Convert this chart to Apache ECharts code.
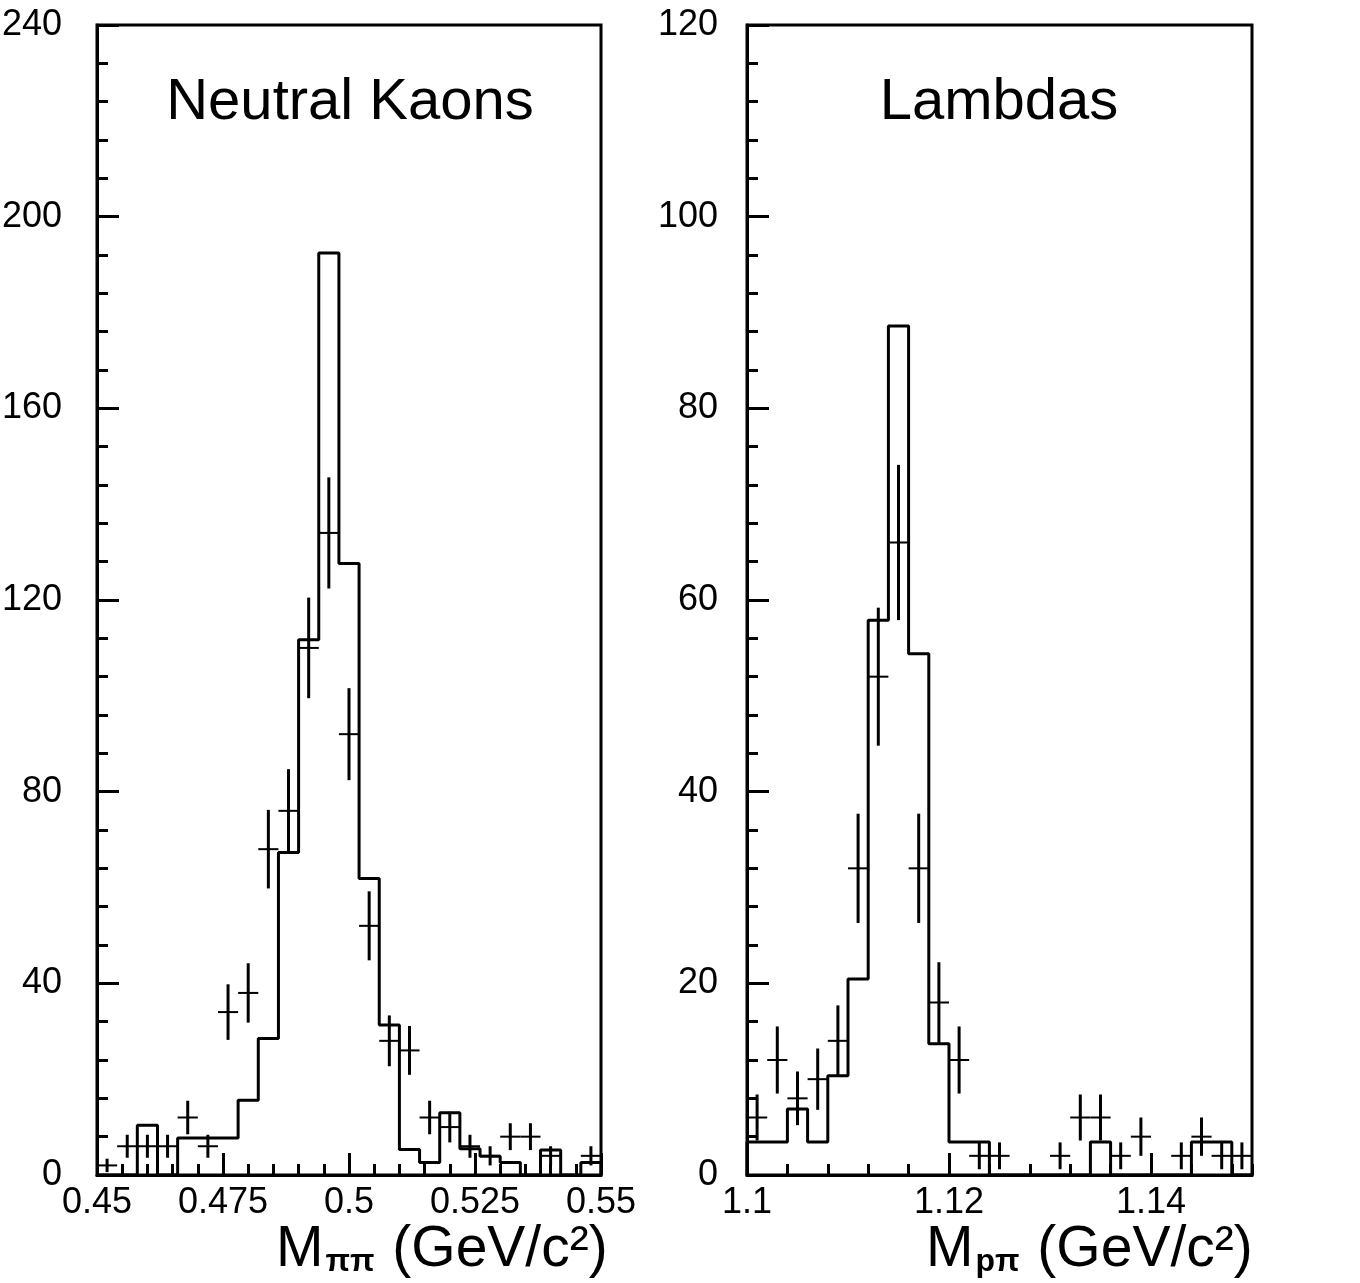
<!DOCTYPE html>
<html>
<head>
<meta charset="utf-8">
<script src="https://cdn.jsdelivr.net/npm/echarts@6/dist/echarts.min.js"></script>
<style>
  html, body { margin: 0; padding: 0; background: #ffffff; }
  #chart { width: 1360px; height: 1283px; }
</style>
</head>
<body>
<div id="chart"></div>
<script>
// ---------- Data ----------
// Neutral Kaons: M_pipi bins (GeV/c^2)
const kaonEdges = [0.450, 0.454, 0.458, 0.462, 0.466, 0.470, 0.474, 0.478, 0.482, 0.486,
                   0.490, 0.494, 0.498, 0.502, 0.506, 0.510, 0.514, 0.518, 0.522, 0.526,
                   0.530, 0.534, 0.538, 0.542, 0.546, 0.550];
// histogram (solid step line)
const kaonHist = [0, 0, 10.4, 0, 7.7, 7.7, 7.7, 15.6, 28.5, 67.3, 111.7, 192.4, 127.6,
                  61.9, 31.3, 5.3, 2.6, 13.0, 5.5, 3.9, 2.6, 0, 5.2, 0, 2.6];
// data points (crosses) and their error half-lengths
const kaonData = [2, 6, 6, 6, 12, 6, 34, 38, 68, 76, 110, 134, 92,
                  52, 28, 26, 12, 10, 6, 4, 8, 8, 4, 0, 4];
const kaonErr  = [1.4, 2.4, 2.4, 2.4, 3.5, 2.4, 5.8, 6.2, 8.2, 8.7, 10.5, 11.6, 9.6,
                  7.2, 5.3, 5.1, 3.5, 3.2, 2.4, 2.0, 2.8, 2.8, 2.0, 0, 2.0];

// Lambdas: M_ppi bins (GeV/c^2)
const lambdaEdges = [1.100, 1.102, 1.104, 1.106, 1.108, 1.110, 1.112, 1.114, 1.116, 1.118,
                     1.120, 1.122, 1.124, 1.126, 1.128, 1.130, 1.132, 1.134, 1.136, 1.138,
                     1.140, 1.142, 1.144, 1.146, 1.148, 1.150];
const lambdaHist = [3.45, 3.45, 6.9, 3.45, 10.35, 20.45, 57.9, 88.6, 54.4, 13.7, 3.45, 3.45, 0,
                    0, 0, 0, 0, 3.45, 0, 0, 0, 0, 3.45, 3.45, 0];
const lambdaData = [6, 12, 8, 10, 14, 32, 52, 66, 32, 18, 12, 2, 2,
                    0, 0, 2, 6, 6, 2, 4, 0, 2, 4, 2, 2];
const lambdaErr  = [2.4, 3.5, 2.8, 3.2, 3.7, 5.7, 7.2, 8.1, 5.7, 4.2, 3.5, 1.4, 1.4,
                    0, 0, 1.4, 2.4, 2.4, 1.4, 2.0, 0, 1.4, 2.0, 1.4, 1.4];

// Axis ticks
const kaonXTicks = { min: 0.45, max: 0.55, interval: 0.025 };
const kaonYTicks = { min: 0, max: 240, interval: 40 };
const lambdaXTicks = { min: 1.1, max: 1.15, interval: 0.02, minorInterval: 0.004 };
const lambdaYTicks = { min: 0, max: 120, interval: 20 };

const panelTitles = ['Neutral Kaons', 'Lambdas'];

// ---------- Helpers ----------
function stepData(edges, hist) {
  const pts = [[edges[0], 0]];
  for (let i = 0; i < hist.length; i++) pts.push([edges[i], hist[i]]);
  pts.push([edges[edges.length - 1], hist[hist.length - 1]]);
  pts.push([edges[edges.length - 1], 0]);
  return pts;
}
function crossData(edges, vals, errs) {
  const out = [];
  for (let i = 0; i < vals.length; i++) {
    if (vals[i] <= 0) continue;
    out.push([(edges[i] + edges[i + 1]) / 2, vals[i], errs[i], (edges[i + 1] - edges[i]) / 2]);
  }
  return out;
}
function renderCross(params, api) {
  const x = api.value(0), y = api.value(1), e = api.value(2), hw = api.value(3);
  const c = api.coord([x, y]);
  const l = api.coord([x - hw, y]);
  const r = api.coord([x + hw, y]);
  const t = api.coord([x, y + e]);
  const b = api.coord([x, y - e]);
  return {
    type: 'group',
    children: [
      { type: 'line', shape: { x1: l[0], y1: c[1], x2: r[0], y2: c[1] },
        style: { stroke: '#000', lineWidth: 2 } },
      { type: 'line', shape: { x1: c[0], y1: t[1], x2: c[0], y2: b[1] },
        style: { stroke: '#000', lineWidth: 3 } }
    ]
  };
}
function fmt(v) {
  return String(parseFloat(v.toFixed(4)));
}

const baseFont = "'Liberation Sans', Arial, sans-serif";
const tickLabel = { color: '#000', fontSize: 36, fontFamily: baseFont };

const chart = echarts.init(document.getElementById('chart'), null, { renderer: 'canvas' });

const gridCommon = { show: true, borderColor: '#000', borderWidth: 3, backgroundColor: 'transparent',
                     containLabel: false, outerBoundsMode: 'none' };

const option = {
  backgroundColor: '#ffffff',
  animation: false,
  grid: [
    Object.assign({ left: 97, top: 25, width: 504, height: 1150 }, gridCommon),
    Object.assign({ left: 747, top: 25, width: 505, height: 1150 }, gridCommon)
  ],
  xAxis: [
    {
      type: 'value', gridIndex: 0, position: 'bottom',
      min: kaonXTicks.min, max: kaonXTicks.max, interval: kaonXTicks.interval,
      axisLine: { show: true, lineStyle: { color: '#000', width: 3 } },
      axisTick: { show: true, inside: true, length: 22, lineStyle: { color: '#000', width: 3 } },
      minorTick: { show: true, splitNumber: 5, length: 11, lineStyle: { color: '#000', width: 3 } },
      splitLine: { show: false },
      axisLabel: Object.assign({ margin: 10, formatter: fmt }, tickLabel)
    },
    {
      type: 'value', gridIndex: 1, position: 'bottom',
      min: lambdaXTicks.min, max: lambdaXTicks.max, interval: lambdaXTicks.interval,
      axisLine: { show: true, lineStyle: { color: '#000', width: 3 } },
      axisTick: { show: true, inside: true, length: 22, lineStyle: { color: '#000', width: 3 } },
      splitLine: { show: false },
      axisLabel: Object.assign({ margin: 10, formatter: fmt, showMaxLabel: false }, tickLabel)
    },
    {
      // minor ticks for the Lambda mass axis
      type: 'value', gridIndex: 1, position: 'bottom',
      min: lambdaXTicks.min, max: lambdaXTicks.max, interval: lambdaXTicks.minorInterval,
      axisLine: { show: false },
      axisTick: { show: true, inside: true, length: 11, lineStyle: { color: '#000', width: 3 } },
      splitLine: { show: false },
      axisLabel: { show: false }
    }
  ],
  yAxis: [
    {
      type: 'value', gridIndex: 0,
      min: kaonYTicks.min, max: kaonYTicks.max, interval: kaonYTicks.interval,
      axisLine: { show: true, lineStyle: { color: '#000', width: 3 } },
      axisTick: { show: true, inside: true, length: 22, lineStyle: { color: '#000', width: 3 } },
      minorTick: { show: true, splitNumber: 5, length: 11, lineStyle: { color: '#000', width: 3 } },
      splitLine: { show: false },
      axisLabel: Object.assign({ margin: 35 }, tickLabel)
    },
    {
      type: 'value', gridIndex: 1,
      min: lambdaYTicks.min, max: lambdaYTicks.max, interval: lambdaYTicks.interval,
      axisLine: { show: true, lineStyle: { color: '#000', width: 3 } },
      axisTick: { show: true, inside: true, length: 22, lineStyle: { color: '#000', width: 3 } },
      minorTick: { show: true, splitNumber: 5, length: 11, lineStyle: { color: '#000', width: 3 } },
      splitLine: { show: false },
      axisLabel: Object.assign({ margin: 29 }, tickLabel)
    }
  ],
  series: [
    {
      type: 'line', xAxisIndex: 0, yAxisIndex: 0, step: 'end',
      data: stepData(kaonEdges, kaonHist), showSymbol: false, symbol: 'none',
      lineStyle: { color: '#000', width: 3 }, clip: true
    },
    {
      type: 'custom', xAxisIndex: 0, yAxisIndex: 0, renderItem: renderCross,
      data: crossData(kaonEdges, kaonData, kaonErr), clip: true
    },
    {
      type: 'line', xAxisIndex: 1, yAxisIndex: 1, step: 'end',
      data: stepData(lambdaEdges, lambdaHist), showSymbol: false, symbol: 'none',
      lineStyle: { color: '#000', width: 3 }, clip: true
    },
    {
      type: 'custom', xAxisIndex: 1, yAxisIndex: 1, renderItem: renderCross,
      data: crossData(lambdaEdges, lambdaData, lambdaErr), clip: true
    }
  ],
  graphic: [
    { type: 'text', style: { x: 350, y: 103, text: panelTitles[0], align: 'center', verticalAlign: 'middle',
        fontSize: 58, fontFamily: baseFont, fill: '#000' } },
    { type: 'text', style: { x: 999, y: 103, text: panelTitles[1], align: 'center', verticalAlign: 'middle',
        fontSize: 58, fontFamily: baseFont, fill: '#000' } },
    { type: 'text', style: { x: 276, y: 1250, align: 'left', verticalAlign: 'middle',
        text: '{m|M}{s|ππ}{g| (GeV/c²)}',
        rich: {
          m: { fontSize: 57, fontFamily: baseFont, fill: '#000' },
          s: { fontSize: 32, fontWeight: 'bold', fontFamily: baseFont, fill: '#000', verticalAlign: 'bottom', padding: [14, 2, 0, 2] },
          g: { fontSize: 57, fontFamily: baseFont, fill: '#000' }
        } } },
    { type: 'text', style: { x: 926, y: 1250, align: 'left', verticalAlign: 'middle',
        text: '{m|M}{s|pπ}{g| (GeV/c²)}',
        rich: {
          m: { fontSize: 57, fontFamily: baseFont, fill: '#000' },
          s: { fontSize: 32, fontWeight: 'bold', fontFamily: baseFont, fill: '#000', verticalAlign: 'bottom', padding: [14, 2, 0, 2] },
          g: { fontSize: 57, fontFamily: baseFont, fill: '#000' }
        } } }
  ]
};
chart.setOption(option);
</script>
</body>
</html>
